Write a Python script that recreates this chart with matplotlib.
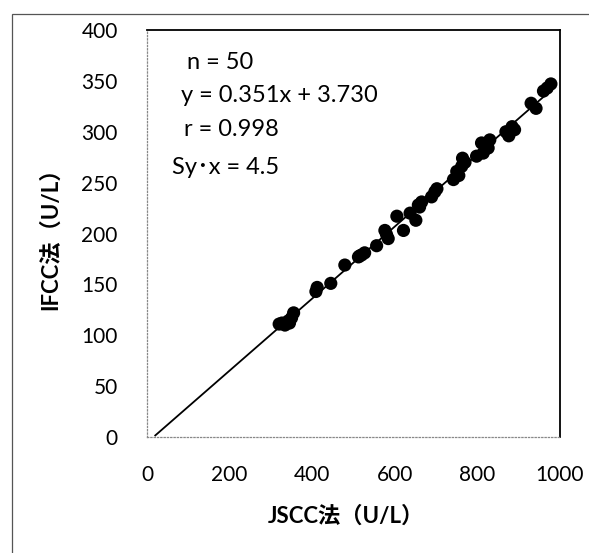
import numpy as np
import matplotlib
matplotlib.use("Agg")
import matplotlib.pyplot as plt
from matplotlib.patches import Rectangle

plt.rcParams['font.family'] = ['Lato', 'Noto Sans CJK JP', 'DejaVu Sans']

# JSCC vs IFCC values (n = 50)
jscc = [969, 978, 930, 942, 869, 884, 876, 810, 830, 826,
        798, 814, 764, 762, 750, 742, 755, 697, 689, 702,
        657, 665, 637, 651, 621, 605, 576, 584, 580, 556,
        520, 512, 527, 479, 445, 409, 412, 320, 334, 342,
        350, 355, 327, 345, 820, 770, 660, 515, 890, 960]
ifcc = [343, 347, 328, 323, 300, 305, 296, 289, 292, 284,
        276, 279, 274, 266, 261, 253, 257, 241, 236, 244,
        228, 231, 220, 213, 203, 217, 203, 195, 199, 188,
        179, 177, 181, 169, 151, 143, 147, 111, 110, 114,
        117, 122, 112, 112, 286, 270, 226, 178, 302, 340]

stats_text = ["n = 50", "y = 0.351x + 3.730", "r = 0.998", "Sy\uff65x = 4.5"]
x_ticks = [0, 200, 400, 600, 800, 1000]
y_ticks = [0, 50, 100, 150, 200, 250, 300, 350, 400]

W, H = 589, 553
fig = plt.figure(figsize=(W / 100, H / 100), dpi=100)

# outer frame of the figure (cut off at right and bottom)
fig.patches.append(Rectangle((12 / W, -0.05), 1.1, 1 - 14 / H + 0.05,
                             transform=fig.transFigure, fill=False,
                             edgecolor='#555555', lw=0.9))

ax = fig.add_axes([147 / W, 1 - 437 / H, 413 / W, 407 / H])

# regression line through the points
k, b = np.polyfit(jscc, ifcc, 1)
xl = np.array([20, 985])
ax.plot(xl, k * xl + b, color='black', lw=1.3, zorder=2)
ax.scatter(jscc, ifcc, s=90, color='black', edgecolors='none', zorder=3)

ax.set_xlim(0, 1000)
ax.set_ylim(0, 400)
ax.set_xticks(x_ticks)
ax.set_yticks(y_ticks)
ax.tick_params(length=0, labelsize=15, colors='black')
ax.tick_params(axis='x', pad=20)
ax.tick_params(axis='y', pad=21)

for s in ['top', 'right']:
    ax.spines[s].set_color('black')
    ax.spines[s].set_linewidth(1.3)
for s in ['left', 'bottom']:
    ax.spines[s].set_color('#888888')
    ax.spines[s].set_linewidth(0.9)
    ax.spines[s].set_linestyle(':')

# statistics text block
tx = [187, 181, 184, 172]
ty = [63, 96, 129, 167]
for t, px, py in zip(stats_text, tx, ty):
    fig.text(px / W, 1 - py / H, t, fontsize=17, va='center', ha='left')

fig.text(346 / W, 1 - 516 / H, "JSCC法（U/L）", fontsize=16, fontweight='bold',
         ha='center', va='center')
fig.text(50 / W, 1 - 233 / H, "IFCC法（U/L）", fontsize=16, fontweight='bold',
         ha='center', va='center', rotation=90)

fig.savefig("out.png", dpi=100)
